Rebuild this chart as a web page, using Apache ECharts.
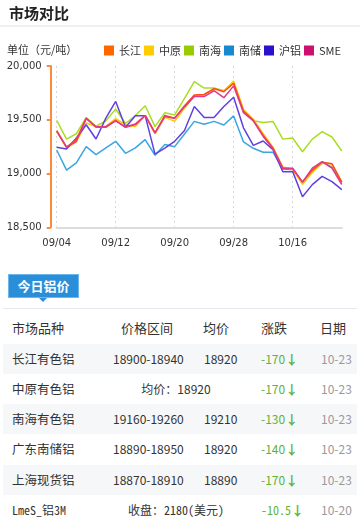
<!DOCTYPE html>
<html><head><meta charset="utf-8">
<script src="https://cdn.jsdelivr.net/npm/echarts@6/dist/echarts.min.js"></script>
<style>
html,body{margin:0;padding:0;background:#fff;width:360px;height:525px;overflow:hidden;font-family:'Microsoft YaHei','Noto Sans CJK SC',sans-serif;color:#333}
#chart{position:absolute;left:0;top:0;width:360px;height:262px}
#tbl{position:absolute;left:0;top:262px;width:360px;height:263px}
.abs{position:absolute;white-space:nowrap}
.tab{left:8px;top:12px;width:71px;height:24px;background:#2b8ed8;color:#fff;font-weight:bold;font-size:13px;line-height:24px;text-align:center;box-shadow:0 0 0 1px #6db6ea inset}
.ptr{left:39px;top:36px;width:0;height:0;border-left:4px solid transparent;border-right:4px solid transparent;border-top:4px solid #2b8ed8}
.sep{left:3px;top:46px;width:354px;height:1px;background:#e6e7ee}
.bg{left:3px;width:354px;height:30px;background:#f6f7f9}
.hd{font-size:13px;color:#333;line-height:16px}
.cell{font-size:12.5px;line-height:16px;color:#333}
.num{font-size:12px;line-height:16px;color:#333}
.chg{font-size:12px;line-height:16px;color:#5fb336}
.arr{font-weight:bold;font-size:13px}
.dt{font-size:12px;line-height:16px;color:#9a9a9a}
.mono{font-family:'Noto Sans Mono CJK SC','Liberation Mono',monospace;font-size:12px}
</style>
</head><body>
<div id="chart"></div>
<div id="tbl"></div>
<script>
// ---- chart data ----
var dates = ['09/04','09/05','09/06','09/07','09/10','09/11','09/12','09/13','09/14','09/17','09/18','09/19','09/20','09/21','09/24','09/25','09/26','09/27','09/28','10/09','10/10','10/11','10/12','10/15','10/16','10/17','10/18','10/19','10/22','10/23'];
var seriesNames = ['长江','中原','南海','南储','沪铝','SME'];
var changjiang = [19400,19245,19315,19515,19430,19430,19495,19430,19455,19540,19375,19540,19515,19630,19730,19735,19790,19760,19840,19580,19495,19355,19235,19050,19045,18920,19030,19105,19090,18920];
var zhongyuan  = [19390,19238,19293,19470,19438,19438,19510,19454,19438,19540,19370,19525,19485,19610,19720,19735,19785,19770,19860,19595,19505,19370,19245,19060,19040,18900,19010,19095,19090,18920];
var nanhai     = [19495,19320,19370,19520,19440,19490,19600,19465,19540,19630,19436,19565,19545,19700,19855,19795,19795,19770,19845,19593,19490,19475,19485,19320,19330,19203,19320,19389,19340,19210];
var nanchu     = [19219,19031,19099,19250,19176,19238,19300,19188,19238,19315,19170,19269,19250,19368,19485,19458,19485,19452,19536,19294,19235,19198,19198,19040,19043,18920,19037,19108,19060,18920];
var hulv       = [19244,19228,19330,19454,19321,19515,19670,19430,19538,19538,19180,19236,19300,19400,19623,19522,19522,19624,19710,19425,19262,19302,19222,19016,19020,18785,18897,18973,18925,18850];
var sme        = [19395,19245,19300,19510,19435,19435,19490,19432,19460,19540,19380,19530,19515,19620,19716,19716,19770,19705,19815,19565,19490,19345,19230,19050,19050,18920,19050,19110,19050,18898];
var yTicks = [18500,19000,19500,20000];

// ---- table data ----
var headers = ['市场品种','价格区间','均价','涨跌','日期'];
var rowNames = ['长江有色铝','中原有色铝','南海有色铝','广东南储铝','上海现货铝','LmeS_铝3M'];
var rowRanges = ['18900-18940','均价：18920','19160-19260','18890-18950','18870-18910','收盘：2180(美元)'];
var rowAvgs = ['18920','','19210','18920','18890',''];
var rowChanges = ['-170','-170','-130','-140','-170','-10.5'];
var rowDates = ['10-23','10-23','10-23','10-23','10-23','10-20'];

// ---- styles ----
var lineColors = ['#ff4a1a','#ffc800','#aadd22','#3aa6e0','#6040e0','#e03a8a'];
var legendColors = ['#ff6600','#ffcc00','#99cc00','#1888d0','#2a10cc','#cc1070'];
var allData = [changjiang, zhongyuan, nanhai, nanchu, hulv, sme];

var chart = echarts.init(document.getElementById('chart'), null, {renderer:'canvas'});
var cjk = "'Microsoft YaHei','Noto Sans CJK SC',sans-serif";
var series = seriesNames.map(function(n, i){
  return {name:n, type:'line', data: allData[i], symbol:'none', smooth:false,
    lineStyle:{width:1.5, color: lineColors[i]}, itemStyle:{color: lineColors[i]},
    z: [3,2,1,1,2,4][i]};
});
chart.setOption({
  animation:false,
  title:[
    {text:'市场对比', left:4, top:1, textStyle:{fontSize:15, fontWeight:'bold', color:'#222', fontFamily:cjk}},
    {text:'单位（元/吨）', left:2, top:39, textStyle:{fontSize:11, fontWeight:'normal', color:'#333', fontFamily:cjk}}
  ],
  graphic:[{type:'rect', left:0, top:25, shape:{width:360, height:2}, style:{fill:'#f0f0f0'}}],
  legend:{
    left:99, top:40, itemWidth:10, itemHeight:10, itemGap:3, icon:'rect',
    textStyle:{fontSize:11, color:'#333', fontFamily:cjk},
    data: seriesNames.map(function(n,i){return {name:n, itemStyle:{color:legendColors[i]}};})
  },
  grid:{left:56.7, right:18.2, top:66, height:161.3, containLabel:false},
  xAxis:{
    type:'category', data:dates, boundaryGap:false,
    axisLine:{lineStyle:{color:'#dcdcdc', width:2}},
    axisTick:{show:false},
    axisLabel:{interval:5, margin:11, color:'#333', fontSize:10, fontFamily:'DejaVu Sans'},
    splitLine:{show:true, interval:5, lineStyle:{color:'#d8d8d8', type:[2,3], width:1}}
  },
  yAxis:{
    type:'value', min:yTicks[0], max:yTicks[yTicks.length-1], interval:500, offset:6,
    axisLine:{show:true, lineStyle:{color:'#ff8a3c', width:2}},
    axisTick:{show:true, length:4, lineStyle:{color:'#ff8a3c', width:2}},
    axisLabel:{margin:9, color:'#333', fontSize:10, fontFamily:'DejaVu Sans',
      formatter:function(v){return v.toLocaleString('en-US');}},
    splitLine:{show:false}
  },
  series: series
});

// ---- table ----
var t = document.getElementById('tbl');
function add(cls, css, html){var d=document.createElement('div');d.className='abs '+cls;d.style.cssText=css;d.innerHTML=html;t.appendChild(d);return d;}
add('tab','', '今日铝价');
add('ptr','', '');
add('sep','', '');
var hx = [12,121,203,261,320];
headers.forEach(function(h,i){ add('hd','left:'+hx[i]+'px;top:58px;', h); });
var rowCenters = [97,127,157,187,218,248];
rowNames.forEach(function(n,i){
  var cy = rowCenters[i];
  if(i%2===0) add('bg','top:'+(cy-15)+'px;','');
  var top = (cy-8)+'px';
  var mono = (i===5);
  add('cell'+(mono?' mono':''),'left:12px;top:'+top, n);
  if(rowAvgs[i]===''){
    add('num'+(mono?' mono':''),'left:176px;top:'+top+';transform:translateX(-50%);', rowRanges[i]);
  } else {
    add('num','left:113px;top:'+top, rowRanges[i]);
    add('num','left:204px;top:'+top, rowAvgs[i]);
  }
  add('chg'+(mono?' mono':''),'left:261px;top:'+top, rowChanges[i]+'<span class="arr">↓</span>');
  add('dt','left:321px;top:'+top, rowDates[i]);
});
</script>
</body></html>
